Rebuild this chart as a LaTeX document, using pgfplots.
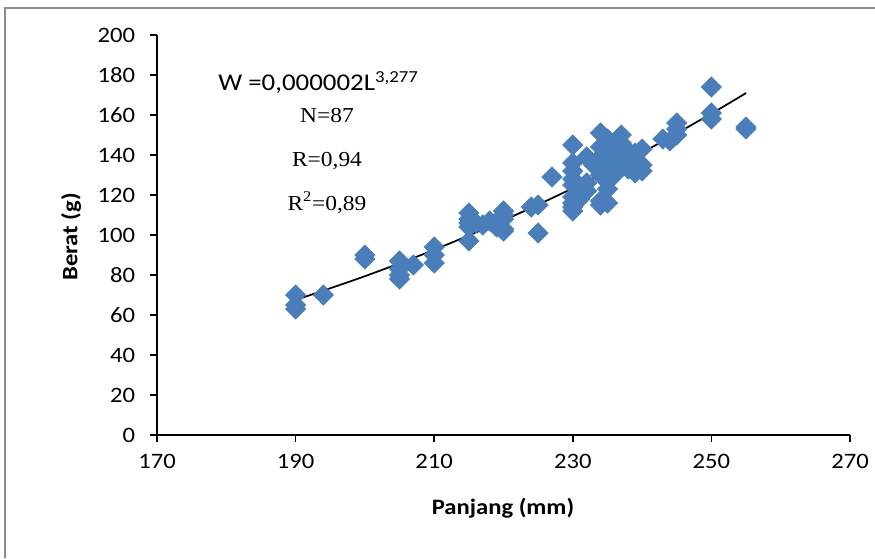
\documentclass[border=0pt]{standalone}
\usepackage{fontspec}
\setmainfont{Carlito}
\newfontfamily\tnr{Liberation Serif}
\usepackage{pgfplots}
\usepackage{graphicx}
\pgfplotsset{compat=1.18}
\definecolor{mblue}{RGB}{74,126,187}
\definecolor{framegray}{RGB}{140,140,140}
\newcommand{\wide}[1]{\scalebox{1.12}[1]{#1}}
\begin{document}
\begin{tikzpicture}[x=0.75pt,y=0.75pt]
\path[use as bounding box] (0,0) rectangle (875,558);
\draw[framegray, line width=1.1pt] (5,0) -- (5,550) -- (875,550);
\begin{axis}[
  at={(117.75pt,92.25pt)}, anchor=south west,
  scale only axis, width=519.75pt, height=300pt,
  xmin=170, xmax=270, ymin=0, ymax=200,
  xtick={170,190,210,230,250,270},
  ytick={0,20,...,200},
  axis lines*=left,
  axis line style={line width=1.2pt, black},
  tick style={line width=1.2pt, black},
  tick align=outside, major tick length=5.25pt,
  /pgf/number format/assume math mode=true,
  ticklabel style={font=\fontsize{16.5}{18}\selectfont, inner sep=0pt},
  xticklabel={\wide{\pgfmathprintnumber{\tick}}},
  yticklabel={\wide{\pgfmathprintnumber{\tick}}},
  xticklabel style={anchor=north, yshift=-9pt},
  yticklabel style={anchor=east, xshift=-11pt},
  clip=false,
]
\addplot[only marks, mark=square*, mark size=5.4pt,
  mark options={rotate=45, draw=mblue, fill=mblue}] coordinates {
(190,70) (190,65) (190,63) (194,70) (200,90) (200,88)
(205,87) (205,83) (205,80) (205,78) (207,85)
(210,94) (210,90) (210,86)
(215,111) (215,108) (215,106) (215,104) (215,97)
(216,106) (217,105) (218,107) (219,104)
(220,112) (220,110) (220,108) (220,103) (220,102)
(224,114) (225,115) (225,101) (227,129)
(230,145) (230,136) (230,132) (230,128) (230,125) (230,119) (230,116) (230,114) (230,112)
(231,124) (231,121) (231,118)
(232,139) (232,126) (232,122) (233,135)
(234,151) (234,144) (234,139) (234,130) (234,117) (234,115)
(235,148) (235,142) (235,136) (235,132) (235,127) (235,123) (235,116)
(236,145) (236,138) (236,134) (236,130)
(237,150) (237,146) (237,144) (237,140)
(238,142) (238,136) (238,133)
(239,141) (239,131)
(240,143) (240,132) (240,135)
(243,148) (244,147)
(245,156) (245,153) (245,150)
(250,174) (250,161) (250,158)
(255,154) (255,153)
};
\addplot[black, line width=1.3pt, smooth] coordinates {
(190,67.5) (200,79.4) (210,92.6) (220,107.3) (230,123.4) (240,141.2) (250,160.7) (255,171)
};
\end{axis}
\node[anchor=base west, inner sep=0pt, font=\fontsize{18}{21}\selectfont] at (218,467)
  {\scalebox{1.12}[1]{W =0,000002L\textsuperscript{3,277}}};
\node[anchor=base, inner sep=0pt, font=\tnr\fontsize{16}{19}\selectfont] at (327,435) {\scalebox{1.1}[1]{N=87}};
\node[anchor=base, inner sep=0pt, font=\tnr\fontsize{16}{19}\selectfont] at (327,391) {\scalebox{1.1}[1]{R=0,94}};
\node[anchor=base, inner sep=0pt, font=\tnr\fontsize{16}{19}\selectfont] at (327,348) {\scalebox{1.1}[1]{R\textsuperscript{2}=0,89}};
\node[inner sep=0pt, font=\fontsize{16.5}{19}\selectfont\bfseries] at (503,50) {\wide{Panjang (mm)}};
\node[inner sep=0pt, rotate=90, font=\fontsize{16.5}{19}\selectfont\bfseries] at (71,321) {\wide{Berat (g)}};
\end{tikzpicture}
\end{document}
